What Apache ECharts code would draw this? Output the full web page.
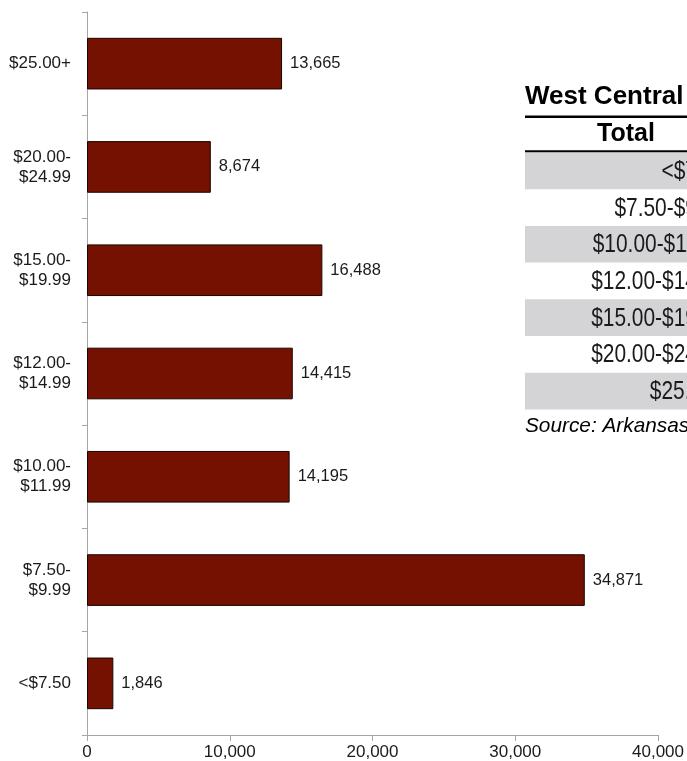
<!DOCTYPE html>
<html>
<head>
<meta charset="utf-8">
<script src="https://cdn.jsdelivr.net/npm/echarts@6/dist/echarts.min.js"></script>
<style>
  html, body { margin: 0; padding: 0; background: #ffffff; }
  #chart { width: 687px; height: 761px; }
</style>
</head>
<body>
<div id="chart"></div>
<script>
// Hourly wage brackets (bottom to top) and employment counts
const categories = ['<$7.50', '$7.50-\n$9.99', '$10.00-\n$11.99', '$12.00-\n$14.99', '$15.00-\n$19.99', '$20.00-\n$24.99', '$25.00+'];
const workers = [1846, 34871, 14195, 14415, 16488, 8674, 13665];
const xTicks = [0, 10000, 20000, 30000, 40000];

// Side table text (rows listed top to bottom)
const tableTitle = 'West Central';
const tableHeader = 'Total';
const tableRows = categories.map(c => c.replace('\n', ''));
const sourceNote = 'Source: Arkansas Department of Workforce Services';

const FONT = '"Liberation Sans", Arial, sans-serif';
const fmt = v => Number(v).toLocaleString('en-US');

const chart = echarts.init(document.getElementById('chart'), null, { renderer: 'canvas' });

// Table drawn as graphic elements on the right side
const tableLeft = 525;
const rowTop = 152.5;
const rowH = 36.7;
const graphics = [
  { type: 'text', left: tableLeft, top: 84,
    style: { text: tableTitle, font: 'bold 26px ' + FONT, fill: '#000' } },
  { type: 'rect', shape: { x: tableLeft, y: 115.5, width: 220, height: 2.5 }, style: { fill: '#000' } },
  { type: 'text', x: 626, y: 134,
    style: { text: tableHeader, font: 'bold 25px ' + FONT, fill: '#000', align: 'center', verticalAlign: 'middle' } },
  { type: 'rect', shape: { x: tableLeft, y: 150.3, width: 220, height: 2.3 }, style: { fill: '#000' } }
];
tableRows.forEach((label, i) => {
  const y = rowTop + i * rowH;
  if (i % 2 === 0) {
    graphics.push({ type: 'rect', shape: { x: tableLeft, y: y, width: 220, height: rowH }, style: { fill: '#d4d4d6' } });
  }
  // condensed row labels, right-aligned on the column edge
  graphics.push({ type: 'text', x: 726, y: y + rowH / 2 + 1, scaleX: 0.82,
    style: { x: 0, y: 0, text: label, font: '25.5px ' + FONT, fill: '#1a1a1a', align: 'right', verticalAlign: 'middle' } });
});
graphics.push({ type: 'text', left: tableLeft, top: 416,
  style: { text: sourceNote, font: 'italic 20.8px ' + FONT, fill: '#000' } });

chart.setOption({
  animation: false,
  backgroundColor: '#ffffff',
  grid: { left: 87, right: 27, top: 12, bottom: 26, containLabel: false },
  xAxis: {
    type: 'value',
    min: xTicks[0],
    max: xTicks[xTicks.length - 1],
    interval: xTicks[1] - xTicks[0],
    splitLine: { show: false },
    axisLine: { show: true, lineStyle: { color: '#a6a6a6', width: 1 } },
    axisTick: { show: true, length: 6, lineStyle: { color: '#a6a6a6' } },
    axisLabel: { margin: 9, fontSize: 17, fontFamily: FONT, color: '#1a1a1a', formatter: fmt }
  },
  yAxis: {
    type: 'category',
    data: categories,
    axisLine: { show: true, lineStyle: { color: '#a6a6a6', width: 1 } },
    axisTick: { show: true, length: 5, alignWithLabel: false, lineStyle: { color: '#a6a6a6' } },
    axisLabel: { margin: 16, fontSize: 17, lineHeight: 20, fontFamily: FONT, color: '#1a1a1a' }
  },
  series: [{
    type: 'bar',
    data: workers,
    barCategoryGap: '50%',
    itemStyle: { color: '#741100', borderColor: '#1a0500', borderWidth: 1 },
    label: {
      show: true, position: 'right', distance: 8,
      fontSize: 16.5, fontFamily: FONT, color: '#1a1a1a',
      formatter: p => fmt(p.value)
    }
  }],
  graphic: graphics
});
</script>
</body>
</html>
